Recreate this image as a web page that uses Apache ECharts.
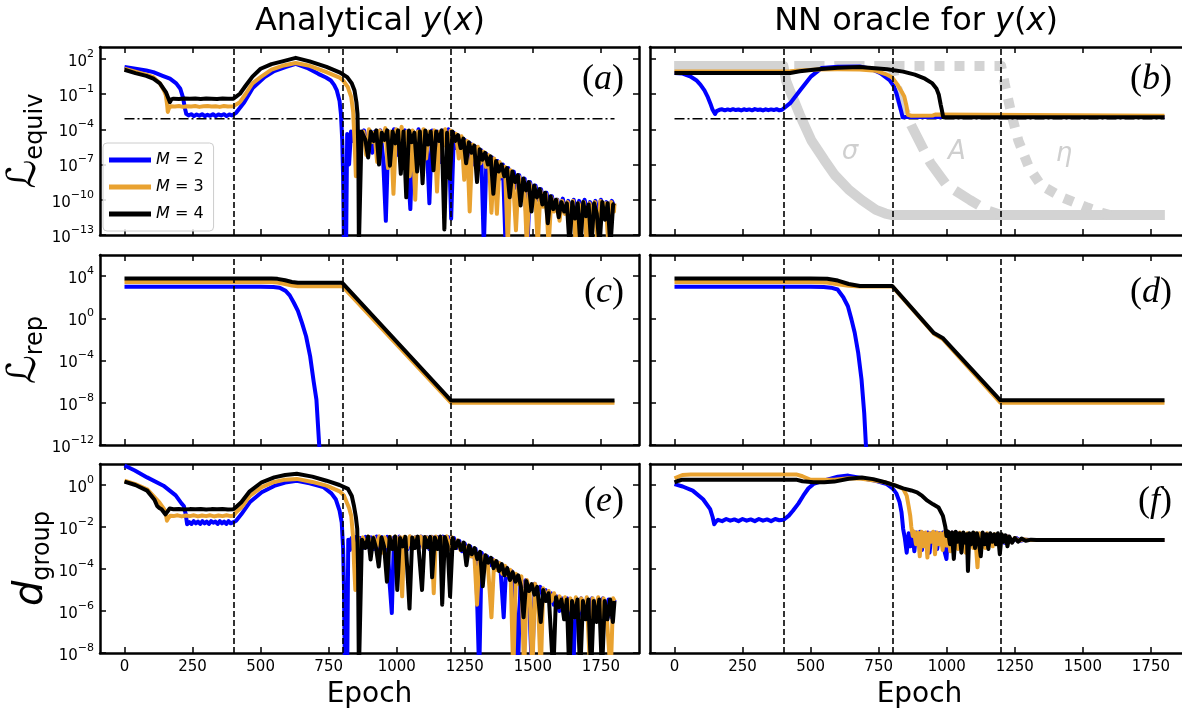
<!DOCTYPE html>
<html><head><meta charset="utf-8">
<script src="https://cdn.jsdelivr.net/npm/echarts@6/dist/echarts.min.js"></script>
<style>html,body{margin:0;padding:0;background:#fff}#c{width:1182px;height:713px}</style>
</head><body><div id="c"></div>
<script>
// ---------- ticks / constants ----------
const epochTicks = [0,250,500,750,1000,1250,1500,1750];
const phaseEpochs = [400,800,1200];
const equivThreshold = 8e-4;
const equivTickExps = [-13,-10,-7,-4,-1,2];
const repTickExps = [-12,-8,-4,0,4];
const groupTickExps = [-8,-6,-4,-2,0];
const seriesNames = ['M = 2','M = 3','M = 4'];
const panelLetters = ['a','b','c','d','e','f'];

// ---------- (a) L_equiv, analytical ----------
const equivAnalyticM2 = [[0,20],[40,14],[80,10],[106,7.2],[140,3.5],[167,2],[190,0.8],[205,0.28],[215,0.05],[222,0.006],[227,0.002],[235,0.0015],[245,0.0019],[255,0.0013],[265,0.0018],[275,0.0014],[285,0.0019],[295,0.0013],[305,0.0017],[315,0.0014],[325,0.0019],[335,0.0013],[345,0.0018],[355,0.0015],[365,0.0019],[375,0.0013],[385,0.0018],[395,0.0015],[400,0.0018],[410,0.0025],[420,0.005],[440,0.02],[470,0.3],[515,2.75],[550,9],[591,19.5],[629,37],[670,17],[712,5.2],[740,2.5],[758,1.4],[770,0.6],[780,0.2],[790,0.025],[795,0.002],[800,1e-5],[803,1e-8],[806,1e-14],[814,1e-14],[818,4e-5],
[825,1e-7],[832,6.3e-5],[840,1e-5],[848,5e-5],[856,1e-6],[864,6.3e-5],[872,6.3e-6],[880,8e-5],[890,6.3e-6],[900,5e-5],[910,1e-6],[920,6.3e-5],[930,1e-5],[940,8e-5],[950,3.2e-7],[960,1.6e-12],[970,6.3e-5],[980,8e-6],[990,1e-4],[1000,6.3e-7],[1010,6.3e-5],[1020,1e-5],[1030,8e-5],[1040,1e-7],[1050,1.6e-11],[1060,6.3e-5],[1070,5e-6],[1080,1e-4],[1090,1e-6],[1100,6.3e-5],[1110,8e-6],[1120,5e-11],[1130,8e-5],[1140,3.2e-6],[1150,6.3e-5],[1160,1.6e-7],[1170,8e-5],[1180,6.3e-6],[1190,1e-4],[1200,2.5e-12],
[1210,5e-5],[1220,2.5e-6],[1230,2.5e-5],[1240,6.3e-7],[1250,1.25e-5],[1260,1.6e-7],[1270,6.3e-6],[1280,1e-7],[1290,3.2e-6],[1300,5e-8],[1310,1.6e-6],[1320,1e-14],[1330,8e-7],[1340,3.2e-8],[1350,4e-7],[1360,1e-8],[1370,2e-7],[1380,6.3e-9],[1390,1e-7],[1400,1e-14],[1410,5e-8],[1420,2.5e-9],[1430,2.5e-8],[1440,1e-9],[1450,1.25e-8],[1460,6.3e-10],[1470,6.3e-9],[1480,1e-14],[1490,3.2e-9],[1500,2.5e-10],[1510,1.6e-9],[1520,1e-10],[1530,8e-10],[1540,6.3e-11],[1550,4e-10],[1560,3.2e-11],[1570,2e-10],[1580,1.6e-11],[1590,1e-10],[1600,6.3e-12],
[1610,1.25e-10],[1620,1e-11],[1630,8e-11],[1640,3.2e-12],[1650,1e-10],[1660,6.3e-12],[1670,8e-11],[1680,1.6e-12],[1690,1e-10],[1700,1e-11],[1710,6.3e-11],[1720,2.5e-12],[1730,8e-11],[1740,5e-12],[1750,1e-10],[1760,3.2e-12],[1770,6.3e-11],[1780,1e-11],[1790,8e-11],[1800,2.5e-11]];
const equivAnalyticM3 = [[0,14],[40,8],[80,4.5],[106,2.75],[130,0.8],[145,0.2],[152,0.08],[157,0.01],[159,0.003],[163,0.006],[170,0.009],[185,0.0085],[200,0.0095],[215,0.008],[230,0.009],[245,0.0085],[260,0.0095],[275,0.008],[290,0.009],[305,0.0095],[320,0.0085],[335,0.009],[350,0.008],[365,0.0095],[380,0.0085],[400,0.009],[410,0.013],[424,0.02],[445,0.1],[470,0.8],[500,2.75],[540,12],[580,25],[629,43],[680,25],[742,7.2],[790,2.5],[803,1.4],[820,0.4],[833,0.054],[840,0.003],[845,1e-5],[850,1e-8],[855,1e-5],
[858,3.2e-5],[868,3.2e-6],[878,6.3e-5],[888,6.3e-7],[898,1e-4],[908,8e-6],[918,5e-5],[928,1.6e-7],[938,8e-5],[948,1e-5],[958,1.25e-4],[968,5e-8],[978,6.3e-5],[988,3.2e-10],[998,1e-4],[1008,6.3e-6],[1018,1.6e-4],[1028,1e-6],[1038,6.3e-5],[1048,1e-8],[1058,8e-5],[1068,1e-10],[1078,6.3e-5],[1088,4e-6],[1098,1e-4],[1108,3.2e-7],[1118,6.3e-5],[1128,5e-6],[1138,8e-5],[1148,5e-10],[1158,6.3e-5],[1168,3.2e-6],[1178,1e-4],[1188,1e-7],[1198,8e-5],
[1208,1e-5],[1218,4e-5],[1228,3.2e-7],[1238,2.5e-5],[1248,5e-9],[1258,1e-5],[1268,1e-11],[1278,5e-6],[1288,3.2e-7],[1298,3.2e-6],[1308,1.25e-7],[1318,1.25e-6],[1328,6.3e-8],[1338,6.3e-7],[1348,8e-12],[1358,3.2e-7],[1368,6.3e-12],[1378,1.6e-7],[1388,1e-8],[1398,6.3e-8],[1408,1e-14],[1418,3.2e-8],[1428,2.5e-9],[1438,2.5e-13],[1448,1e-8],[1458,1e-9],[1468,4e-9],[1478,1e-14],[1488,2.5e-9],[1498,1e-10],[1508,1.2e-9],[1518,1e-14],[1528,6e-10],[1538,2.5e-11],[1548,3e-10],[1558,1e-14],[1568,1.6e-10],[1578,1e-11],[1588,1e-10],
[1598,1.6e-12],[1608,8e-11],[1618,6.3e-12],[1628,6.3e-11],[1638,3.2e-12],[1648,8e-11],[1658,1e-14],[1668,5e-11],[1678,1e-11],[1688,6.3e-11],[1698,1e-14],[1708,5e-11],[1718,4e-12],[1728,6.3e-11],[1738,1e-14],[1748,8e-11],[1758,6.3e-12],[1768,5e-11],[1778,1e-14],[1788,6.3e-11],[1798,1e-11],[1800,5e-11]];
const equivAnalyticM4 = [[0,11.5],[40,6],[80,3.5],[106,2],[130,0.8],[152,0.145],[160,0.05],[167,0.02],[172,0.035],[180,0.04],[200,0.038],[220,0.042],[240,0.039],[260,0.041],[280,0.038],[300,0.042],[320,0.04],[340,0.038],[360,0.041],[380,0.039],[400,0.04],[410,0.06],[424,0.105],[445,0.5],[470,3],[500,14],[540,35],[580,60],[629,120],[680,60],[742,20],[790,7],[818,2.75],[835,0.8],[845,0.2],[852,0.02],[856,0.002],[859,1e-6],[861,1e-14],[866,1e-14],[871,6.3e-5],
[875,6.3e-5],[885,1.25e-5],[895,4e-7],[905,6.3e-5],[915,1e-5],[925,8e-5],[935,1e-7],[945,5e-5],[955,1.25e-5],[965,8e-5],[975,8e-8],[985,6.3e-5],[995,6.3e-6],[1005,8e-5],[1015,1.6e-8],[1025,6.3e-5],[1035,1.6e-10],[1045,8e-5],[1055,8e-6],[1065,5e-5],[1075,2.5e-8],[1085,6.3e-5],[1095,2.5e-9],[1105,8e-5],[1115,5e-6],[1125,6.3e-5],[1135,3.2e-8],[1145,6.3e-5],[1155,1e-5],[1165,8e-5],[1175,3e-13],[1185,5e-5],[1195,6.3e-9],[1205,6.3e-5],
[1215,1e-5],[1225,3.2e-5],[1235,2.5e-6],[1245,1.6e-5],[1255,1.25e-7],[1265,8e-6],[1275,1e-6],[1285,4e-6],[1295,3.2e-9],[1305,2e-6],[1315,2.5e-7],[1325,1e-6],[1335,1e-7],[1345,5e-7],[1355,3.2e-10],[1365,2e-7],[1375,2.5e-8],[1385,1e-7],[1395,1e-8],[1405,5e-8],[1415,1.6e-10],[1425,2.5e-8],[1435,3.2e-9],[1445,1.25e-8],[1455,3.2e-11],[1465,6.3e-9],[1475,6.3e-10],[1485,3.2e-9],[1495,1e-11],[1505,1.6e-9],[1515,1.6e-10],[1525,8e-10],[1535,4e-11],[1545,4e-10],[1555,1e-12],[1565,2e-10],[1575,1.6e-11],[1585,1e-10],
[1595,3.2e-12],[1605,6.3e-11],[1615,1e-11],[1625,5e-11],[1635,1e-14],[1645,6.3e-11],[1655,2.5e-12],[1665,5e-11],[1675,1e-14],[1685,6.3e-11],[1695,4e-12],[1705,4e-11],[1715,1e-14],[1725,5e-11],[1735,6.3e-12],[1745,1e-14],[1755,6.3e-11],[1765,2e-12],[1775,5e-11],[1785,1e-14],[1795,4e-11],[1800,5e-11]];

// ---------- (b) L_equiv, NN oracle ----------
const equivOracleM2 = [[0,6],[30,5.5],[57,3.2],[80,1.5],[95,0.63],[110,0.2],[121,0.063],[132,0.015],[140,0.0045],[149,0.002],[155,0.0035],[165,0.0045],[175,0.005],[185,0.0041],[195,0.0049],[205,0.0042],[215,0.0051],[225,0.0043],[235,0.0048],[245,0.004],[255,0.005],[265,0.0043],[275,0.0049],[285,0.0041],[295,0.0052],[305,0.0044],[315,0.0048],[325,0.004],[335,0.005],[345,0.0042],[355,0.0049],[365,0.0043],[375,0.0051],[385,0.0041],[395,0.0046],[400,0.0038],[425,0.0166],[463,0.23],[502,3.2],[540,16],[600,21],[680,22],[720,14],[756,6],[790,1.5],[806,0.44],[816,0.1],[825,0.0166],[832,0.004],[838,0.00107],[850,0.0011],[1800,0.0011]];
const equivOracleM3 = [[0,8.3],[400,8.3],[425,8.5],[460,10],[527,12],[600,12.5],[680,12],[740,9.5],[781,4.4],[800,2.5],[819,0.63],[835,0.15],[844,0.063],[852,0.01],[857,0.0017],[870,0.0014],[950,0.0015],[958,0.0018],[965,0.0014],[1800,0.0014]];
const equivOracleM4 = [[0,6],[400,6],[425,6.2],[460,8.5],[527,13],[600,17],[680,19.5],[781,13],[840,8],[883,4.4],[920,2],[946,0.85],[962,0.3],[971,0.085],[978,0.012],[982,0.0045],[987,0.00107],[1800,0.00107]];
// schedules drawn in (b), normalised 0..1
const schedSigma = [[0,1],[400,1],[410,0.9],[425,0.83],[441,0.76],[463,0.66],[503,0.5],[550,0.37],[588,0.27],[640,0.17],[688,0.1],[740,0.035],[775,0.01],[800,0],[1800,0]];
const schedA = [[0,1],[800,1],[815,0.87],[840,0.72],[870,0.6],[940,0.35],[1000,0.2],[1086,0.1],[1150,0.03],[1200,0],[1800,0]];
const schedEta = [[0,1],[1200,1],[1213,0.88],[1240,0.66],[1263,0.5],[1302,0.32],[1346,0.2],[1422,0.12],[1517,0.05],[1570,0.015],[1600,0],[1800,0]];

// ---------- (c) L_rep, analytical ----------
const repAnalyticM2 = [[0,1000],[500,1000],[547,950],[570,800],[592,400],[607,150],[622,30],[637,5],[652,0.37],[667,0.02],[682,2.5e-4],[695,1e-6],[705,2e-8],[715,1.2e-12],[725,1e-15]];
const repAnalyticM3 = [[0,2700],[540,2700],[562,2500],[590,1800],[615,1300],[637,1100],[800,1100],[1200,1e-8],[1800,1e-8]];
const repAnalyticM4 = [[0,6000],[540,6000],[562,5500],[590,4000],[615,2800],[637,2300],[800,2300],[1200,1.6e-8],[1800,1.6e-8]];

// ---------- (d) L_rep, NN oracle ----------
const repOracleM2 = [[0,1000],[500,1000],[548,950],[575,800],[599,540],[620,100],[637,14],[650,0.8],[662,0.043],[675,5e-4],[687,1.6e-6],[697,1e-9],[703,1.2e-12],[710,1e-15]];
const repOracleM3 = [[0,2700],[500,2700],[560,2500],[600,1700],[640,1200],[681,1050],[800,1050],[953,0.035],[985,0.011],[1197,1e-8],[1800,1e-8]];
const repOracleM4 = [[0,6000],[500,6000],[561,5600],[600,3800],[640,1800],[681,1150],[800,1150],[953,0.04],[985,0.014],[1197,1.7e-8],[1800,1.7e-8]];

// ---------- (e) d_group, analytical ----------
const groupAnalyticM2 = [[0,8.5],[38,4.9],[83,2.3],[143,0.93],[188,0.32],[210,0.13],[218,0.1],[225,0.04],[230,0.0135],[238,0.017],[246,0.014],[254,0.019],[262,0.015],[270,0.018],[278,0.014],[286,0.019],[294,0.015],[302,0.018],[310,0.014],[318,0.019],[326,0.016],[334,0.018],[342,0.014],[350,0.019],[358,0.015],[366,0.018],[374,0.014],[382,0.019],[390,0.015],[400,0.017],[410,0.02],[429,0.04],[460,0.15],[504,0.45],[550,0.9],[590,1.3],[633,1.58],[680,1.2],[730,0.8],[760,0.4],[776,0.21],[790,0.06],[798,0.016],[803,1e-3],[806,2e-5],[810,1e-9],[818,1e-9],
[822,2.5e-3],[828,8e-4],[834,3e-3],[842,1e-3],[850,3.3e-3],[858,6e-4],[866,3e-3],[876,1e-3],[886,3.4e-3],[896,1.1e-3],[906,3.2e-3],[916,9e-4],[926,3.5e-3],[936,1e-3],[946,3.3e-3],[956,1.2e-3],[966,3.4e-3],[974,2e-5],[982,8e-7],[990,3.2e-3],[1000,1e-3],[1010,3.5e-3],[1020,1.1e-3],[1030,3.3e-3],[1040,9e-4],[1050,3.4e-3],[1060,1.2e-3],[1070,3.2e-3],[1080,1e-3],[1090,3.5e-3],[1100,1.1e-3],[1110,3.3e-3],[1120,9e-4],[1130,3.4e-3],[1140,1e-3],[1150,3.3e-3],[1160,1.2e-3],[1170,3.5e-3],[1180,1e-3],[1190,3.3e-3],[1200,1e-3],[1210,3e-3],
[1220,1e-3],[1230,2.2e-3],[1240,7e-4],[1250,1.6e-3],[1260,5e-4],[1270,1.2e-3],[1280,4e-4],[1290,9e-4],[1303,1e-9],[1312,6e-4],[1322,2e-4],[1332,4e-4],[1342,1.5e-4],[1352,3e-4],[1362,1e-4],[1372,2e-4],[1382,7e-5],[1393,5e-7],[1402,1.2e-4],[1412,4e-5],[1422,8e-5],[1432,3e-5],[1445,1e-9],[1455,4e-5],[1465,1.5e-5],[1475,3e-5],[1485,1e-5],[1497,1e-9],[1507,2e-5],[1517,7e-6],[1527,1.4e-5],[1537,5e-6],[1547,1e-5],[1557,4e-6],[1567,7e-6],[1577,2e-6],[1587,5e-6],[1597,1e-6],[1607,4e-6],
[1617,6e-7],[1627,4e-6],[1637,8e-7],[1648,1e-9],[1658,3.5e-6],[1668,5e-7],[1678,4e-6],[1688,7e-7],[1698,3.5e-6],[1708,5e-7],[1718,4e-6],[1728,6e-7],[1738,3.5e-6],[1748,5e-7],[1758,4e-6],[1768,7e-7],[1778,3.5e-6],[1788,5e-7],[1800,3.5e-6]];
const groupAnalyticM3 = [[0,1.6],[40,1.1],[83,0.63],[128,0.15],[150,0.059],[156,0.02],[160,0.025],[168,0.034],[180,0.033],[195,0.036],[210,0.032],[225,0.035],[240,0.033],[255,0.036],[270,0.032],[285,0.035],[300,0.033],[315,0.036],[330,0.032],[345,0.035],[360,0.033],[375,0.036],[390,0.033],[400,0.034],[410,0.05],[429,0.085],[460,0.3],[504,0.8],[550,1.4],[590,1.8],[633,1.95],[690,1.4],[742,0.93],[790,0.5],[806,0.32],[825,0.08],[833,0.034],[840,3e-3],[843,2e-4],[848,1e-5],[852,1e-3],
[858,3e-3],[866,5e-4],[876,3.2e-3],[886,1.2e-3],[896,3.5e-3],[906,8e-4],[916,3.3e-3],[926,1.1e-3],[936,3.6e-3],[946,6e-4],[956,3.2e-3],[966,1.2e-3],[976,3.4e-3],[986,1e-3],[996,3.5e-3],[1006,1.1e-3],[1013,3.3e-3],[1020,5e-6],[1028,3.4e-3],[1038,1e-3],[1048,3.6e-3],[1058,9e-4],[1068,3.2e-3],[1078,1.2e-3],[1088,3.5e-3],[1098,1e-3],[1108,3.3e-3],[1118,1.1e-3],[1128,3.4e-3],[1136,7e-6],[1144,3.5e-3],[1154,1e-3],[1164,3.3e-3],[1174,1.2e-3],[1184,3.6e-3],[1194,9e-4],[1204,3.2e-3],
[1214,1e-3],[1224,2.3e-3],[1234,8e-4],[1244,1.7e-3],[1254,6e-4],[1264,1.3e-3],[1274,4e-4],[1284,9e-4],[1295,2e-6],[1305,6e-4],[1315,2e-4],[1325,4.5e-4],[1335,1.5e-4],[1348,5e-7],[1358,2.6e-4],[1368,9e-5],[1378,1.9e-4],[1388,6e-5],[1398,1.4e-4],[1408,5e-5],[1418,9e-5],[1428,1e-9],[1438,6e-5],[1448,2e-5],[1458,4.5e-5],[1468,1e-9],[1478,3e-5],[1488,1e-5],[1498,1e-9],[1508,2e-5],[1518,7e-6],[1529,1e-9],[1538,1.2e-5],[1548,4e-6],[1558,9e-6],[1568,3e-6],[1578,7e-6],[1588,2e-6],[1598,5e-6],[1608,1.5e-6],[1618,4.5e-6],
[1628,1e-6],[1638,4e-6],[1648,5e-7],[1658,4.5e-6],[1668,1e-6],[1678,4e-6],[1688,6e-7],[1698,4.5e-6],[1711,1e-9],[1720,4e-6],[1730,7e-7],[1740,4.5e-6],[1750,5e-7],[1760,4e-6],[1770,1e-6],[1786,1e-9],[1795,4e-6],[1800,3e-6]];
const groupAnalyticM4 = [[0,1.45],[40,1.0],[83,0.54],[110,0.2],[120,0.1],[128,0.08],[136,0.07],[150,0.04],[158,0.055],[166,0.076],[180,0.07],[200,0.072],[220,0.069],[240,0.071],[260,0.07],[280,0.072],[300,0.069],[320,0.071],[340,0.07],[360,0.072],[380,0.069],[400,0.07],[410,0.09],[429,0.15],[460,0.5],[504,1.35],[550,2.3],[590,3.0],[633,3.4],[690,2.5],[742,1.6],[790,1.0],[821,0.65],[835,0.3],[843,0.1],[850,0.03],[855,0.008],[858,1e-4],[861,1e-9],[868,1e-9],[872,2.5e-3],
[875,3e-3],[885,1e-3],[895,3.5e-3],[904,2.8e-4],[914,3e-3],[924,1e-3],[934,1.3e-4],[944,3.2e-3],[954,1.1e-3],[964,2.5e-5],[974,3.3e-3],[984,9e-4],[994,3.5e-3],[1002,1e-5],[1012,3e-3],[1022,1.2e-3],[1032,3.4e-3],[1047,1.3e-6],[1057,3.2e-3],[1067,1e-3],[1077,3.5e-3],[1093,1e-5],[1103,3.3e-3],[1113,1.1e-3],[1123,3.4e-3],[1130,4e-5],[1140,3.2e-3],[1150,9e-4],[1160,3.5e-3],[1167,2e-6],[1177,3.3e-3],[1187,1.2e-3],[1196,5e-6],[1206,3e-3],
[1216,1e-3],[1226,2.2e-3],[1236,8e-4],[1246,1.8e-3],[1256,1.5e-4],[1266,1.3e-3],[1276,5e-4],[1286,1e-3],[1296,3e-4],[1306,6.5e-4],[1316,1.5e-5],[1326,4.5e-4],[1336,2e-4],[1346,3.4e-4],[1356,1.1e-4],[1366,2.4e-4],[1376,8e-5],[1386,1.7e-4],[1396,5e-5],[1406,1.1e-4],[1416,3e-5],[1426,7e-5],[1436,2.5e-5],[1446,5e-5],[1456,1.5e-5],[1466,5e-7],[1476,2.7e-5],[1486,9e-6],[1496,1.9e-5],[1506,6e-6],[1516,1.4e-5],[1529,3e-7],[1538,1e-5],[1548,3e-6],[1558,7e-6],[1575,1e-9],[1585,4.5e-6],[1595,1.5e-6],[1605,3.5e-6],
[1615,4e-7],[1625,3.5e-6],[1634,1e-9],[1644,3e-6],[1654,5e-7],[1664,3.5e-6],[1674,1e-9],[1684,3e-6],[1694,4e-7],[1704,3.5e-6],[1714,1e-9],[1724,3e-6],[1734,3e-7],[1744,3.5e-6],[1754,1e-9],[1764,3e-6],[1774,4e-7],[1784,3.5e-6],[1794,3e-7],[1800,3e-6]];

// ---------- (f) d_group, NN oracle ----------
const groupOracleM2 = [[0,1.1],[30,0.85],[67,0.54],[105,0.21],[131,0.071],[140,0.03],[146,0.0135],[152,0.018],[160,0.022],[175,0.019],[190,0.024],[205,0.02],[220,0.023],[235,0.019],[250,0.024],[265,0.02],[280,0.023],[295,0.019],[310,0.024],[325,0.02],[340,0.023],[355,0.019],[370,0.024],[385,0.021],[400,0.022],[420,0.035],[435,0.059],[455,0.13],[473,0.31],[492,0.7],[511,1.12],[560,1.8],[600,2.5],[638,2.8],[690,2.1],[739,1.6],[780,1.1],[801,0.69],[815,0.4],[827,0.15],[834,0.05],[840,0.008],[846,0.003],[853,6e-4],
[860,5e-3],[867,1.2e-3],[874,6e-3],[881,7e-4],[888,5.5e-3],[895,1.5e-3],[902,6e-3],[909,8e-4],[916,5e-3],[923,1.5e-3],[930,5.5e-3],[937,6e-4],[944,5e-3],[951,1.8e-3],[958,5.5e-3],[965,9e-4],[972,5e-3],[979,1.5e-3],[986,5.5e-3],[993,6e-4],[999,3e-4],[1005,5e-3],[1012,1.5e-3],[1020,5.5e-3],[1030,1e-3],[1040,5e-3],[1050,1.5e-3],[1060,5e-3],[1070,1.2e-3],[1080,4.5e-3],[1090,1.5e-3],[1100,5e-3],[1110,1e-3],[1120,4.5e-3],[1130,1.5e-3],[1140,4.5e-3],[1150,1.2e-3],[1160,4.5e-3],[1170,1.5e-3],[1180,4e-3],[1190,1.8e-3],[1200,4e-3],[1212,1.8e-3],[1225,3.5e-3],[1240,2e-3],[1255,3e-3],[1270,2.2e-3],[1290,2.5e-3],[1310,2.4e-3],[1800,2.4e-3]];
const groupOracleM3 = [[0,2.1],[29,3.0],[60,3.2],[447,3.2],[470,2.6],[498,1.8],[587,1.8],[640,2.1],[688,2.0],[740,1.6],[773,1.35],[815,0.9],[840,0.65],[853,0.31],[860,0.1],[866,0.034],[870,0.01],[875,0.0037],
[880,6e-3],[887,1.5e-3],[894,5.5e-3],[901,4e-4],[908,6e-3],[915,1.2e-3],[922,5.5e-3],[929,3.5e-4],[936,5e-3],[943,2e-3],[950,6e-3],[957,5e-4],[964,5.5e-3],[971,1.5e-3],[978,5e-3],[985,8e-4],[992,5.5e-3],[999,1.3e-3],[1006,5e-3],[1013,7e-4],[1020,5.5e-3],[1027,1.6e-3],[1034,5e-3],[1041,9e-4],[1048,5.5e-3],[1055,1.5e-3],[1062,5e-3],[1069,6e-4],[1076,5e-3],[1083,1.8e-3],[1090,4.5e-3],[1097,1e-3],[1104,5e-3],[1113,1.2e-4],[1120,5e-3],[1127,1.5e-3],[1134,4.5e-3],[1141,1e-3],[1148,5e-3],[1155,1.6e-3],[1162,4.5e-3],[1169,1.2e-3],[1176,4.5e-3],[1183,1.8e-3],[1190,4e-3],[1197,1.5e-3],[1205,4e-3],[1215,2e-3],[1225,3.5e-3],[1238,2e-3],[1250,3e-3],[1265,2.2e-3],[1280,2.6e-3],[1300,2.4e-3],[1800,2.4e-3]];
const groupOracleM4 = [[0,1.35],[15,1.6],[29,1.8],[100,1.8],[200,1.8],[300,1.8],[447,1.8],[470,1.5],[511,1.35],[550,1.35],[587,1.45],[640,2.0],[688,2.3],[730,1.9],[773,1.35],[810,0.95],[840,0.69],[870,0.55],[891,0.45],[910,0.3],[929,0.18],[950,0.12],[970,0.085],[986,0.034],[995,0.01],[999,0.0037],
[1005,6e-3],[1012,1.5e-3],[1019,5.5e-3],[1026,3e-4],[1033,6e-3],[1040,2e-3],[1047,5e-3],[1054,6e-4],[1061,5.5e-3],[1068,1.8e-3],[1074,4.5e-3],[1078,8e-5],[1083,5e-3],[1090,1.5e-3],[1097,5.5e-3],[1104,1e-3],[1111,5e-3],[1118,2e-3],[1125,4e-4],[1132,5.5e-3],[1139,1.5e-3],[1146,4.5e-3],[1153,9e-4],[1160,5e-3],[1167,2e-3],[1174,4.5e-3],[1181,1.5e-3],[1188,5e-3],[1195,5e-4],[1202,4.5e-3],[1209,2e-3],[1216,4e-3],[1223,1.2e-3],[1230,3.5e-3],[1240,1.8e-3],[1250,3e-3],[1262,2e-3],[1275,2.8e-3],[1290,2.2e-3],[1310,2.5e-3],[1330,2.4e-3],[1800,2.4e-3]];

// ---------- build ----------
const colors = ['#0000ff','#e9a230','#000000'];
const toLog = arr => arr.map(p => [p[0], Math.log10(p[1])]);
const panelData = [
  [equivAnalyticM2, equivAnalyticM3, equivAnalyticM4],
  [equivOracleM2, equivOracleM3, equivOracleM4],
  [repAnalyticM2, repAnalyticM3, repAnalyticM4],
  [repOracleM2, repOracleM3, repOracleM4],
  [groupAnalyticM2, groupAnalyticM3, groupAnalyticM4],
  [groupOracleM2, groupOracleM3, groupOracleM4]
];
const rows = [
  {ticks: equivTickExps, min: -13, max: 3, name: '{L|ℒ}{s|equiv}'},
  {ticks: repTickExps, min: -12, max: 6, name: '{L|ℒ}{s|rep}'},
  {ticks: groupTickExps, min: -8, max: 1, name: '{d|d}{s|group}'}
];
const grids = [
  {left:100, top:47, width:539, height:188},
  {left:650, top:47, width:539, height:188},
  {left:100, top:255, width:539, height:190},
  {left:650, top:255, width:539, height:190},
  {left:100, top:464, width:539, height:189},
  {left:650, top:464, width:539, height:189}
].map(g => Object.assign({outerBoundsMode:'none', containLabel:false}, g));

const FONT = 'DejaVu Sans';
const axisLineStyle = {show:true, onZero:false, lineStyle:{color:'#000', width:2.5}};
const tickStyle = {color:'#000', width:1.5};
const xAxes = [], yAxes = [], series = [];
for (let i = 0; i < 6; i++) {
  const row = Math.floor(i/2), col = i % 2, r = rows[row];
  ['bottom','top'].forEach(pos => {
    const showLab = pos === 'bottom' && row === 2;
    xAxes.push({
      gridIndex:i, type:'value', min:-90, max:1890, position:pos,
      axisLine:axisLineStyle,
      axisTick:{show:true, inside:true, length:6, lineStyle:tickStyle, customValues:epochTicks},
      axisLabel:{show:showLab, customValues:epochTicks, margin:7, fontSize:15, color:'#000', fontFamily:FONT,
        formatter: v => String(v)},
      splitLine:{show:false},
      name: showLab ? 'Epoch' : '', nameLocation:'middle', nameGap:28,
      nameTextStyle:{fontSize:28, fontFamily:FONT, color:'#000'}
    });
  });
  ['left','right'].forEach(pos => {
    const showLab = pos === 'left' && col === 0;
    yAxes.push({
      gridIndex:i, type:'value', min:r.min, max:r.max, position:pos,
      axisLine:axisLineStyle,
      axisTick:{show:true, inside:true, length:6, lineStyle:tickStyle, customValues:r.ticks},
      axisLabel:{show:showLab, customValues:r.ticks, margin:6, color:'#000',
        formatter: v => '{b|10}{e|' + (v < 0 ? '\u2212' : '') + Math.abs(Math.round(v)) + '}',
        rich:{b:{fontSize:15, fontFamily:FONT, color:'#000', lineHeight:21, verticalAlign:'bottom'},
              e:{fontSize:11, fontFamily:FONT, color:'#000', lineHeight:11, verticalAlign:'top'}}},
      splitLine:{show:false},
      name: showLab ? r.name : '', nameLocation:'middle', nameGap:44,
      nameTextStyle:{color:'#000', rich:{
        L:{fontSize:40, fontFamily:FONT, color:'#000', lineHeight:46},
        d:{fontSize:40, fontFamily:FONT, fontStyle:'italic', color:'#000', lineHeight:46},
        s:{fontSize:24, fontFamily:FONT, color:'#000', lineHeight:26, verticalAlign:'bottom'}}}
    });
  });
  panelData[i].forEach((d, k) => {
    const s = {
      type:'line', name:seriesNames[k], xAxisIndex:2*i, yAxisIndex:2*i,
      data:toLog(d), showSymbol:false, symbol:'none', animation:false, clip:true,
      lineStyle:{color:colors[k], width:4, join:'round'}, itemStyle:{color:colors[k]}, z:3
    };
    if (k === 0) {
      s.markLine = {silent:true, symbol:['none','none'], animation:false, label:{show:false},
        lineStyle:{color:'#000', type:[6,3], width:1.6},
        data: phaseEpochs.map(e => ({xAxis:e}))};
    }
    series.push(s);
  });
  if (row === 0) {
    series.push({type:'line', xAxisIndex:2*i, yAxisIndex:2*i, showSymbol:false, symbol:'none', animation:false,
      data:[[0, Math.log10(equivThreshold)], [1800, Math.log10(equivThreshold)]],
      lineStyle:{color:'#000', width:1.5, type:[10,3,2,3]}, z:2, silent:true});
  }
}
// hidden axis for the schedules in (b)
yAxes.push({gridIndex:1, type:'value', min:-0.134, max:1.127, show:false, splitLine:{show:false}});
const schedIdx = yAxes.length - 1;
[[schedSigma,'solid'],[schedA,[28,12]],[schedEta,[10,10]]].forEach(([d, t]) => {
  series.push({type:'line', xAxisIndex:2, yAxisIndex:schedIdx, data:d, showSymbol:false, symbol:'none',
    animation:false, silent:true, z:1, lineStyle:{color:'#d3d3d3', width:10, type:t, cap:'butt', join:'round'}});
});

const txt = (x, y, text, rich, align) => ({type:'text', x, y, z:10, silent:true,
  style:{text, rich, align: align || 'center', verticalAlign:'middle', fill:'#000'}});
const titleRich = {n:{fontSize:32, fontFamily:FONT, fill:'#000'}, i:{fontSize:32, fontFamily:FONT, fontStyle:'italic', fill:'#000'}};
const panRich = {p:{fontSize:36, fontFamily:'Liberation Serif', fill:'#000'}, i:{fontSize:36, fontFamily:'Liberation Serif', fontStyle:'italic', fill:'#000'}};
const grayRich = {g:{fontSize:26, fontFamily:FONT, fontStyle:'italic', fill:'#cfcfcf'}};
const labelPos = [[624,80],[1172,80],[624,293],[1172,293],[624,502],[1172,502]];
const graphics = [
  txt(370, 22, '{n|Analytical }{i|y}{n|(}{i|x}{n|)}', titleRich),
  txt(916, 22, '{n|NN oracle for }{i|y}{n|(}{i|x}{n|)}', titleRich),
  txt(850, 152, '{g|σ}', grayRich),
  txt(957, 152, '{g|A}', grayRich),
  txt(1064, 154, '{g|η}', grayRich)
];
labelPos.forEach((p, i) => graphics.push(txt(p[0], p[1], '{p|(}{i|' + panelLetters[i] + '}{p|)}', panRich, 'right')));

const chart = echarts.init(document.getElementById('c'), null, {renderer:'canvas'});
chart.setOption({
  backgroundColor:'#fff',
  animation:false,
  grid:grids, xAxis:xAxes, yAxis:yAxes, series,
  legend:{
    data:seriesNames, orient:'vertical', left:103, top:143,
    icon:'rect', itemWidth:42, itemHeight:5, itemGap:11,
    backgroundColor:'rgba(255,255,255,0.85)', borderColor:'#cccccc', borderWidth:1, borderRadius:4,
    padding:[9,10,9,6],
    formatter: n => '{i|M} = ' + n.split('= ')[1],
    textStyle:{fontSize:16, fontFamily:FONT, color:'#000', rich:{i:{fontSize:16, fontFamily:FONT, fontStyle:'italic', color:'#000'}}}
  },
  graphic:graphics
});
</script></body></html>
